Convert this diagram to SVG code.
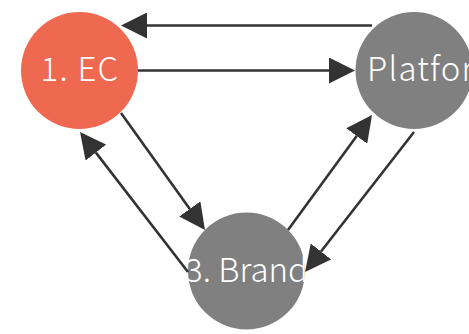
<svg xmlns="http://www.w3.org/2000/svg" width="469" height="334" viewBox="0 0 469 334">
  <style>
    .edge { stroke: #333333; stroke-width: 2.6; fill: none; marker-end: url(#head); }
    .label { font-family: "Noto Sans CJK JP", "Noto Sans", sans-serif; font-size: 33px; font-weight: 300; fill: #ffffff; text-anchor: middle; }
    .wide { letter-spacing: 1.2px; }
    .ec { fill: #ef6950; }
    .grey { fill: #808080; }
  </style>
  <defs>
    <marker id="head" viewBox="0 0 26 26" refX="0" refY="13" markerWidth="26" markerHeight="26" markerUnits="userSpaceOnUse" orient="auto">
      <path d="M0,0 L26,13 L0,26 Z" fill="#333333"/>
    </marker>
  </defs>
  <rect width="469" height="334" fill="#ffffff"/>

  <g id="node-ec">
    <circle class="ec" cx="79.5" cy="70.5" r="58.5"/>
    <text class="label wide" x="80" y="81">1. EC</text>
  </g>
  <g id="node-platform">
    <circle class="grey" cx="414" cy="70.5" r="58.5"/>
    <text class="label wide" x="418" y="81">2. Platform</text>
  </g>
  <g id="node-brand">
    <circle class="grey" cx="246.5" cy="271" r="58.5"/>
    <text class="label" x="246.5" y="282">3. Brand</text>
  </g>

  <!-- connectors drawn over the nodes; each line stops at the arrowhead base -->
  <g id="connectors">
    <line class="edge" x1="372" y1="25.5" x2="147" y2="25.5"/>
    <line class="edge" x1="138" y1="70.5" x2="329" y2="70.5"/>
    <line class="edge" x1="121" y1="113" x2="189.8" y2="208.9"/>
    <line class="edge" x1="188" y1="272" x2="95.9" y2="152.6"/>
    <line class="edge" x1="288" y1="230" x2="356.7" y2="136"/>
    <line class="edge" x1="414" y1="132" x2="321" y2="251.5"/>
  </g>
</svg>
